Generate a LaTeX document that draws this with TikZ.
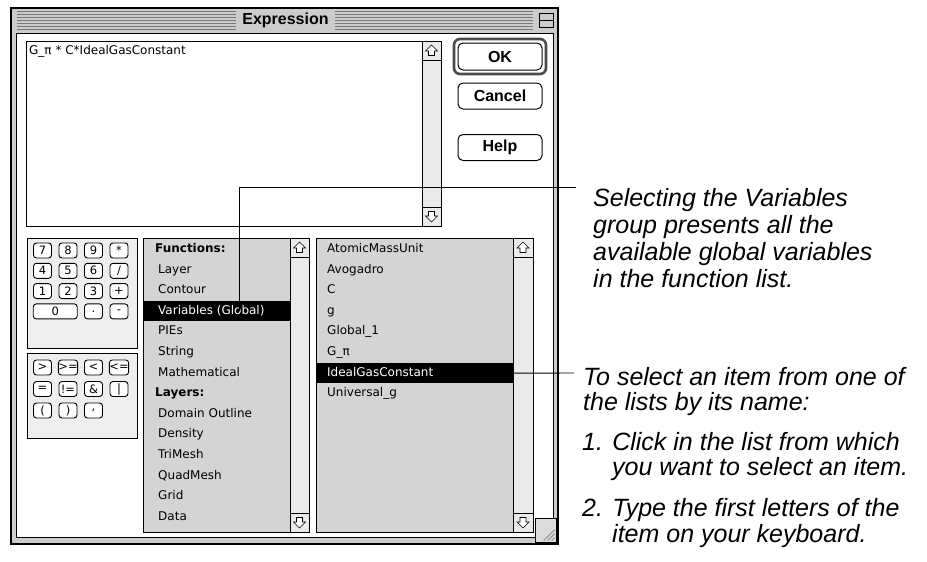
\documentclass[tikz,border=0pt]{standalone}
\usepackage{fontspec}
\setmainfont{Liberation Sans}
\newfontfamily\screenfont{DejaVu Sans}
\usetikzlibrary{positioning}
\definecolor{framegray}{RGB}{204,204,204}
\definecolor{listgray}{RGB}{212,212,212}
\definecolor{padgray}{RGB}{238,238,238}
\definecolor{bargray}{RGB}{234,234,234}
\definecolor{stripegray}{RGB}{120,120,120}
\tikzset{
  every node/.style={
    font=\screenfont\fontsize{12}{14}\selectfont
  },
  panel/.style={
    draw=black,
    line width=1pt,
    anchor=north west,
    inner sep=0pt
  },
  keybtn/.style={
    draw,
    fill=white,
    rounded corners=3pt,
    line width=0.9pt,
    minimum width=18pt,
    minimum height=15pt,
    inner sep=0pt,
    font=\screenfont\fontsize{11.5}{12}\selectfont
  },
  dlgbutton/.style={
    draw,
    fill=white,
    rounded corners=5pt,
    line width=1pt,
    minimum width=84pt,
    minimum height=26pt,
    inner sep=0pt,
    font=\bfseries\fontsize{16}{18}\selectfont
  },
  listitem/.style={
    anchor=base west,
    inner sep=0pt
  },
  listhead/.style={
    listitem,
    font=\screenfont\bfseries\fontsize{12}{14}\selectfont
  },
  selrow/.style={
    fill=black,
    anchor=north west,
    inner sep=0pt,
    minimum height=20pt
  },
  note/.style={
    anchor=base west,
    align=left,
    inner sep=0pt,
    font=\itshape\fontsize{25}{27}\selectfont
  },
  callout/.style={
    line width=0.9pt
  },
  uparr/.pic={
    \draw[line width=0.6pt, fill=white] (0,-5.5) -- (6,0.5) -- (3,0.5) -- (3,5)
      -- (-3,5) -- (-3,0.5) -- (-6,0.5) -- cycle;
  }
}

\begin{document}
\begin{tikzpicture}[x=1pt,y=-1pt]
  \useasboundingbox (0,0) rectangle (927,562);

  % window frame and title bar
  \node[panel, fill=framegray, minimum width=547pt, minimum height=536pt,
    line width=1.5pt] (window) at (10,7) {};
  \node[panel, fill=white, minimum width=537pt, minimum height=504pt,
    line width=0.8pt] (content) at (16,33) {};
  \foreach \yy in {11,14,...,29} {
    \draw[stripegray, line width=0.8pt] (17,\yy) -- (236,\yy);
    \draw[stripegray, line width=0.8pt] (335,\yy) -- (533,\yy);
  }
  \node[font=\bfseries\fontsize{16}{18}\selectfont] (title) at (285.5,20) {Expression};
  \node[panel, fill=framegray, minimum width=14pt, minimum height=14pt,
    line width=0.8pt] (zoombox) at (539,13) {};
  \draw[line width=0.8pt] (zoombox.west) -- (zoombox.east);

  % expression text box
  \node[panel, fill=white, minimum width=415pt, minimum height=185pt] (exprbox) at (26,41) {};
  \node[listitem] (exprtext) at (29,54) {G\_π * C*IdealGasConstant};
  \node[panel, fill=bargray, minimum width=19pt, minimum height=185pt] (exprscroll) at (422,41) {};
  \draw[line width=1pt] (422,60) -- (441,60) (422,207) -- (441,207);
  \pic at (431.5,50.5) {uparr};
  \pic[rotate=180] at (431.5,216.5) {uparr};

  % buttons
  \node[dlgbutton, minimum height=27pt] (okbtn) at (500,56.5) {OK};
  \draw[line width=2.6pt, rounded corners=6pt, black!70]
    ([shift={(-3.5,-3.5)}]okbtn.north west) rectangle ([shift={(3.5,3.5)}]okbtn.south east);
  \node[dlgbutton] (cancelbtn) at (500,96) {Cancel};
  \node[dlgbutton] (helpbtn) at (500,147.5) {Help};

  % keypads
  \node[panel, fill=padgray, minimum width=110pt, minimum height=110pt] (numpad) at (27,238) {};
  \node[panel, fill=padgray, minimum width=110pt, minimum height=85pt] (oppad) at (27,353) {};
  \foreach \k [count=\c from 0] in {7,8,9,*}
    \node[keybtn] (ka\c) at ({42.5+25.5*\c},250.5) {\k};
  \foreach \k [count=\c from 0] in {4,5,6,/}
    \node[keybtn] (kb\c) at ({42.5+25.5*\c},270.8) {\k};
  \foreach \k [count=\c from 0] in {1,2,3,+}
    \node[keybtn] (kc\c) at ({42.5+25.5*\c},291.1) {\k};
  \node[keybtn, minimum width=44pt] (kd0) at (55.25,311.4) {0};
  \node[keybtn] (kd1) at (93.5,311.4) {.};
  \node[keybtn] (kd2) at (119,311.4) {-};
  \foreach \k [count=\c from 0] in {>,>=,<,<=}
    \node[keybtn] (ke\c) at ({42.5+25.5*\c},367.5) {\k};
  \foreach \k [count=\c from 0] in {=,!=,\&,|}
    \node[keybtn] (kf\c) at ({42.5+25.5*\c},389) {\k};
  \node[keybtn] (kg0) at (42.5,410.5) {(};
  \node[keybtn] (kg1) at (68,410.5) {)};
  \node[keybtn] (kg2) at (93.5,410.5) {,};

  % functions list
  \node[panel, fill=listgray, minimum width=147pt, minimum height=294pt] (funclist) at (143,238) {};
  \node[panel, fill=bargray, minimum width=19pt, minimum height=294pt] (funcscroll) at (290,238) {};
  \draw[line width=1pt] (290,257) -- (309,257) (290,513) -- (309,513);
  \pic at (299.5,247.5) {uparr};
  \pic[rotate=180] at (299.5,522.5) {uparr};
  \node[selrow, minimum width=146pt] (varsrow) at (143.5,301) {};
  \node[listhead] (funchead) at (155,252.5) {Functions:};
  \node[listhead] (layhead) at (155,{252.5+20.6*7}) {Layers:};
  \foreach \n/\txt in {1/Layer, 2/Contour, 4/PIEs, 5/String, 6/Mathematical,
      8/Domain Outline, 9/Density, 10/TriMesh, 11/QuadMesh, 12/Grid, 13/Data}
    \node[listitem] at (158,{252.5+20.6*\n}) {\txt};
  \node[listitem, text=white] (varsitem) at (158,{252.5+20.6*3}) {Variables (Global)};

  % variables list
  \node[panel, fill=listgray, minimum width=197pt, minimum height=294pt] (varlist) at (316,238) {};
  \node[panel, fill=bargray, minimum width=20pt, minimum height=294pt] (varscroll) at (513,238) {};
  \draw[line width=1pt] (513,257) -- (533,257) (513,513) -- (533,513);
  \pic at (523,247.5) {uparr};
  \pic[rotate=180] at (523,522.5) {uparr};
  \node[selrow, minimum width=196pt] (idealrow) at (316.5,363) {};
  \foreach \n/\txt in {0/AtomicMassUnit, 1/Avogadro, 2/C, 3/g, 4/Global\_1,
      5/G\_π, 7/Universal\_g}
    \node[listitem] at (327,{252.5+20.6*\n}) {\txt};
  \node[listitem, text=white] (idealitem) at (327,{252.5+20.6*6}) {IdealGasConstant};

  % grow box
  \node[panel, fill=framegray!70, minimum width=21pt, minimum height=24pt,
    line width=0.6pt] (growbox) at (535,518) {};
  \foreach \d in {5,9,13}
    \draw[black!45, line width=0.8pt] ([shift={(-\d,-2)}]growbox.south east) -- ([shift={(-2,-\d)}]growbox.south east);

  % notes and callouts (base = last line)
  \node[note] (selnote) at (593,287) {Selecting the Variables\\group presents all the\\available global variables\\in the function list.};
  \node[note, font=\itshape\fontsize{25}{25}\selectfont] (namenote) at (583,410) {To select an item from one of\\the lists by its name:};
  \node[note, font=\itshape\fontsize{25}{25}\selectfont] (stepone) at (582,475) {1. Click in the list from which\\\hspace*{30pt}you want to select an item.};
  \node[note, font=\itshape\fontsize{25}{26}\selectfont] (steptwo) at (582,542) {2. Type the first letters of the\\\hspace*{30pt}item on your keyboard.};
  \coordinate (selend) at (576,187);
  \coordinate (nameend) at (574,373);
  \draw[callout] ([xshift=23pt]varsrow.center) |- (selend);
  \draw[callout] (idealrow.east) -- (nameend);
\end{tikzpicture}
\end{document}
